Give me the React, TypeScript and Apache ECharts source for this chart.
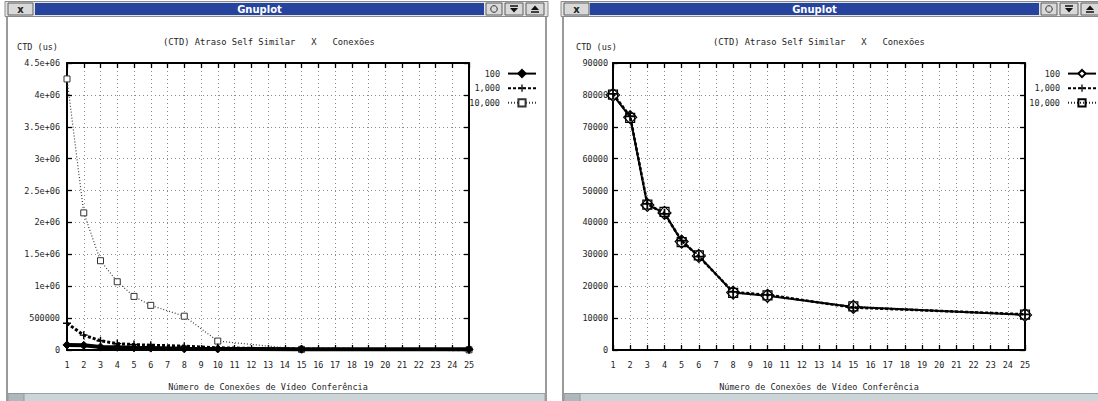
import React, { useEffect, useRef } from "react";
import * as echarts from "echarts";

// ---------------- data ----------------
const connections = [1, 2, 3, 4, 5, 6, 8, 10, 15, 25];
const seriesNames = ["100", "1,000", "10,000"];

const leftCtd100 = [80000, 73000, 45500, 43000, 34000, 29500, 18000, 17000, 13500, 11000];
const leftCtd1000 = [420000, 233000, 145000, 100000, 85000, 75000, 60000, 35000, 12000, 5000];
const leftCtd10000 = [4250000, 2150000, 1400000, 1070000, 840000, 700000, 530000, 140000, 10000, 3000];

const rightCtd100 = [80000, 73000, 45500, 43000, 34000, 29500, 18000, 17000, 13500, 11000];
const rightCtd1000 = [80300, 73300, 45800, 42700, 34300, 29300, 18200, 17300, 13300, 11200];
const rightCtd10000 = [80100, 72800, 45600, 43300, 33800, 29700, 17900, 17100, 13700, 11100];

const xTickLabels = ["1", "2", "3", "4", "5", "6", "7", "8", "9", "10", "11", "12", "13", "14", "15", "16", "17", "18", "19", "20", "21", "22", "23", "24", "25"];
const leftYTickLabels = ["0", "500000", "1e+06", "1.5e+06", "2e+06", "2.5e+06", "3e+06", "3.5e+06", "4e+06", "4.5e+06"];
const rightYTickLabels = ["0", "10000", "20000", "30000", "40000", "50000", "60000", "70000", "80000", "90000"];

const chartTitle = "(CTD) Atraso Self Similar   X   Conexões";
const yName = "CTD (us)";
const xName = "Número de Conexões de Vídeo Conferência";
const windowTitle = "Gnuplot";

// ---------------- styles ----------------
const FONT = "'DejaVu Sans Mono', 'Liberation Mono', monospace";
const TXT = "#1e1e1e";
const FS = 8.5;
const PLUS = "path://M0,4.1H10V5.9H0Z M4.1,0H5.9V10H4.1Z";

const pairs = (vals: number[]) => connections.map((x, i) => [x, vals[i]]);

function windowChrome(border: number, right: number, xBtn: number, barStart: number, barEnd: number) {
  const btn = (x: number, w: number) => ({
    type: "rect",
    shape: { x, y: 3, width: w, height: 12 },
    style: { fill: "#d9d9d9", stroke: "#5e5e5e", lineWidth: 1 },
  });
  const b1 = barEnd + 2;
  const b2 = barEnd + 21;
  const b3 = barEnd + 42;
  return [
    {
      type: "rect",
      z: -10,
      shape: { x: border, y: 15.5, width: right - border, height: 390 },
      style: { fill: "#ffffff", stroke: "#7a7a7a", lineWidth: 1.5 },
    },
    {
      type: "rect",
      z: -9,
      shape: { x: border - 2, y: 1.5, width: right - border + 4, height: 15 },
      style: { fill: "#e4e4e4", stroke: "#8a8a8a", lineWidth: 1 },
    },
    {
      type: "rect",
      shape: { x: border + 1, y: 393.5, width: right - border - 2, height: 8 },
      style: { fill: "#cbd4d7", stroke: "#98a3a8", lineWidth: 1 },
    },
    {
      type: "rect",
      shape: { x: border + 1, y: 393.5, width: 16, height: 8 },
      style: { fill: "#aeb8bc", stroke: "#8e999e", lineWidth: 1 },
    },
    btn(xBtn, 25),
    {
      type: "text",
      style: {
        x: xBtn + 12.5, y: 9.5, text: "x", align: "center", verticalAlign: "middle",
        fill: "#222", font: "bold 10px 'DejaVu Sans', sans-serif",
      },
    },
    {
      type: "rect",
      shape: { x: barStart, y: 3, width: barEnd - barStart, height: 12 },
      style: { fill: "#26449e" },
    },
    {
      type: "text",
      style: {
        x: (barStart + barEnd) / 2, y: 9.5, text: windowTitle, align: "center", verticalAlign: "middle",
        fill: "#ffffff", font: "bold 10px 'DejaVu Sans', sans-serif",
      },
    },
    btn(b1, 16),
    { type: "circle", shape: { cx: b1 + 8, cy: 9, r: 3.3 }, style: { fill: "none", stroke: "#333", lineWidth: 1 } },
    btn(b2, 18),
    { type: "line", shape: { x1: b2 + 5, y1: 6, x2: b2 + 13, y2: 6 }, style: { stroke: "#111", lineWidth: 1.5 } },
    { type: "polygon", shape: { points: [[b2 + 5, 8], [b2 + 13, 8], [b2 + 9, 12.5]] }, style: { fill: "#111" } },
    btn(b3, 18),
    { type: "polygon", shape: { points: [[b3 + 5, 10], [b3 + 13, 10], [b3 + 9, 5.5]] }, style: { fill: "#111" } },
    { type: "line", shape: { x1: b3 + 5, y1: 12, x2: b3 + 13, y2: 12 }, style: { stroke: "#111", lineWidth: 1.5 } },
  ];
}

interface Cfg {
  gridLeft: number;
  gridWidth: number;
  yMax: number;
  yInterval: number;
  yLabels: string[];
  yLabelMargin: number;
  yNamePadRight: number;
  titleLeft: number;
  legendRight: number;
  chrome: any[];
  series: any[];
}

function buildOption(c: Cfg) {
  const tick = { show: true, inside: true, length: 5, lineStyle: { color: "#000", width: 1.3 } };
  const line = { show: true, onZero: false, lineStyle: { color: "#000", width: 2 } };
  const grid = { show: true, lineStyle: { color: "#8c8c8c", width: 1, type: [1, 3] } };
  const base = { fontFamily: FONT, fontSize: FS, color: TXT };
  return {
    animation: false,
    backgroundColor: "transparent",
    title: {
      text: chartTitle,
      left: c.titleLeft,
      top: 37,
      padding: 0,
      textStyle: { ...base, fontSize: 8.8, fontWeight: "normal" },
    },
    legend: {
      orient: "vertical",
      right: c.legendRight,
      top: 69,
      padding: 0,
      align: "right",
      itemWidth: 28,
      itemHeight: 9,
      itemGap: 5.5,
      selectedMode: false,
      textStyle: { ...base, padding: [0, 3, 0, 0] },
      data: seriesNames,
    },
    grid: { left: c.gridLeft, top: 63, width: c.gridWidth, height: 287, containLabel: false },
    xAxis: [
      {
        type: "value", min: 1, max: 25, interval: 1, position: "bottom",
        axisLine: line, axisTick: tick, splitLine: grid,
        axisLabel: { ...base, margin: 10, formatter: (v: number) => xTickLabels[Math.round(v) - 1] ?? "" },
        name: xName, nameLocation: "middle", nameGap: 32, nameTextStyle: base,
      },
      {
        type: "value", min: 1, max: 25, interval: 1, position: "top",
        axisLine: line, axisTick: tick, splitLine: { show: false }, axisLabel: { show: false },
      },
    ],
    yAxis: [
      {
        type: "value", min: 0, max: c.yMax, interval: c.yInterval, position: "left",
        axisLine: line, axisTick: tick, splitLine: grid,
        axisLabel: { ...base, margin: c.yLabelMargin, formatter: (v: number) => c.yLabels[Math.round(v / c.yInterval)] ?? "" },
        name: yName, nameLocation: "end", nameGap: 16,
        nameTextStyle: { ...base, align: "right", verticalAlign: "middle", padding: [0, c.yNamePadRight, 0, 0] },
      },
      {
        type: "value", min: 0, max: c.yMax, interval: c.yInterval, position: "right",
        axisLine: line, axisTick: tick, splitLine: { show: false }, axisLabel: { show: false },
      },
    ],
    graphic: { elements: c.chrome },
    series: c.series,
  };
}

const leftSeries = [
  {
    name: seriesNames[2], type: "line", data: pairs(leftCtd10000), xAxisIndex: 0, yAxisIndex: 0,
    symbol: "rect", symbolSize: 6, z: 2,
    lineStyle: { color: "#3a3a3a", width: 1.2, type: [1, 2] },
    itemStyle: { color: "#fff", borderColor: "#333", borderWidth: 1 },
  },
  {
    name: seriesNames[1], type: "line", data: pairs(leftCtd1000), xAxisIndex: 0, yAxisIndex: 0,
    symbol: PLUS, symbolSize: 8, z: 3,
    lineStyle: { color: "#000", width: 3, type: [3, 2] },
    itemStyle: { color: "#000" },
  },
  {
    name: seriesNames[0], type: "line", data: pairs(leftCtd100), xAxisIndex: 0, yAxisIndex: 0,
    symbol: "diamond", symbolSize: 8, z: 4,
    lineStyle: { color: "#000", width: 4 },
    itemStyle: { color: "#000", borderColor: "#000", borderWidth: 1 },
  },
];

const rightSeries = [
  {
    name: seriesNames[0], type: "line", data: pairs(rightCtd100), xAxisIndex: 0, yAxisIndex: 0,
    symbol: "diamond", symbolSize: 13, z: 2,
    lineStyle: { color: "#000", width: 2 },
    itemStyle: { color: "#fff", borderColor: "#000", borderWidth: 1.2 },
  },
  {
    name: seriesNames[1], type: "line", data: pairs(rightCtd1000), xAxisIndex: 0, yAxisIndex: 0,
    symbol: PLUS, symbolSize: 10, z: 4,
    lineStyle: { color: "#000", width: 2.5, type: [3, 2] },
    itemStyle: { color: "#000" },
  },
  {
    name: seriesNames[2], type: "line", data: pairs(rightCtd10000), xAxisIndex: 0, yAxisIndex: 0,
    symbol: "rect", symbolSize: 9, z: 3,
    lineStyle: { color: "#222", width: 1, type: [1, 2] },
    itemStyle: { color: "transparent", borderColor: "#000", borderWidth: 1.2 },
  },
];

export default function App() {
  const leftRef = useRef<HTMLDivElement>(null);
  const rightRef = useRef<HTMLDivElement>(null);

  useEffect(() => {
    const c1 = echarts.init(leftRef.current!, null, { renderer: "svg" });
    c1.setOption(
      buildOption({
        gridLeft: 67, gridWidth: 402, yMax: 4500000, yInterval: 500000, yLabels: leftYTickLabels,
        yLabelMargin: 7, yNamePadRight: 9, titleLeft: 163, legendRight: 15,
        chrome: windowChrome(7, 546, 8, 35, 484), series: leftSeries,
      }) as any
    );
    const c2 = echarts.init(rightRef.current!, null, { renderer: "svg" });
    c2.setOption(
      buildOption({
        gridLeft: 61, gridWidth: 412, yMax: 90000, yInterval: 10000, yLabels: rightYTickLabels,
        yLabelMargin: 5, yNamePadRight: -4, titleLeft: 161, legendRight: 1,
        chrome: windowChrome(11, 552, 12, 38, 487), series: rightSeries,
      }) as any
    );
    return () => {
      c1.dispose();
      c2.dispose();
    };
  }, []);

  return (
    <div style={{ position: "absolute", left: 0, top: 0, width: 1098, height: 401, background: "#fff", overflow: "hidden" }}>
      <div ref={leftRef} style={{ position: "absolute", left: 0, top: 0, width: 552, height: 401 }} />
      <div ref={rightRef} style={{ position: "absolute", left: 552, top: 0, width: 546, height: 401 }} />
    </div>
  );
}
